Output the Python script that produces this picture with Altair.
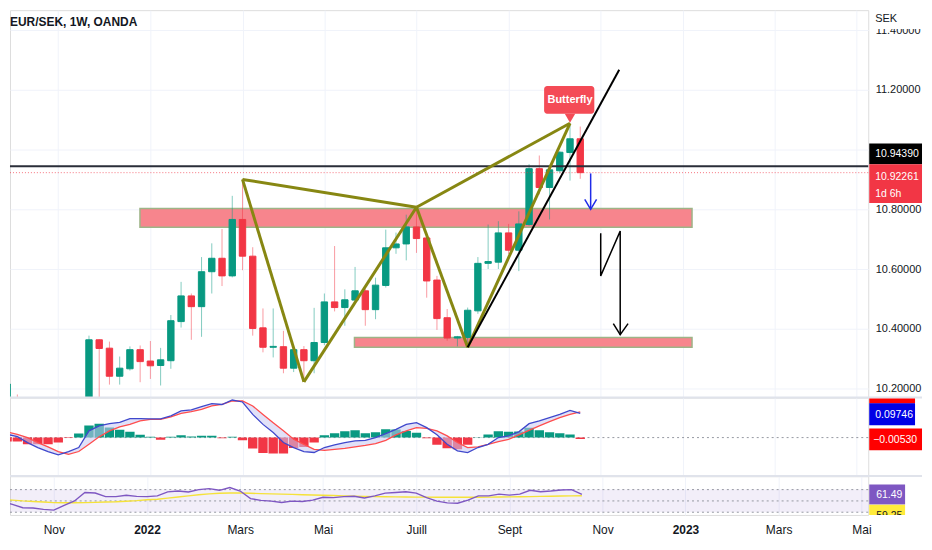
import altair as alt
import pandas as pd

# ------------------------------------------------------------------ data
FIRST_WEEK = "2021-09-27"

OPEN = [10.10, 10.165, 10.08, 10.03, 10.01, 9.96, 9.94, 10.00, 10.08, 10.363,
        10.335, 10.241, 10.266, 10.33, 10.292, 10.277, 10.293, 10.424, 10.51, 10.474,
        10.591, 10.636, 10.577, 10.766, 10.643, 10.403, 10.338, 10.34, 10.268, 10.33,
        10.293, 10.354, 10.49, 10.471, 10.496, 10.527, 10.464, 10.545, 10.671, 10.684,
        10.741, 10.704, 10.563, 10.437, 10.369, 10.371, 10.46, 10.619, 10.623, 10.721,
        10.663, 10.749, 10.936, 10.873, 10.929, 10.99, 11.036]
HIGH = [10.221, 10.18, 10.12, 10.06, 10.05, 9.99, 10.02, 10.10, 10.377, 10.365,
        10.357, 10.307, 10.341, 10.344, 10.359, 10.336, 10.446, 10.557, 10.518, 10.64,
        10.686, 10.734, 10.845, 10.90, 10.673, 10.468, 10.468, 10.393, 10.335, 10.342,
        10.47, 10.518, 10.677, 10.532, 10.607, 10.533, 10.571, 10.732, 10.722, 10.782,
        10.807, 10.71, 10.577, 10.466, 10.376, 10.471, 10.64, 10.749, 10.76, 10.751,
        10.793, 10.951, 10.98, 10.945, 10.995, 11.088, 11.077]
LOW = [10.08, 10.06, 10.00, 9.98, 9.93, 9.90, 9.92, 9.97, 10.06, 10.15,
       10.213, 10.213, 10.26, 10.221, 10.232, 10.21, 10.266, 10.404, 10.363, 10.373,
       10.518, 10.543, 10.572, 10.596, 10.377, 10.321, 10.304, 10.251, 10.255, 10.222,
       10.251, 10.345, 10.458, 10.41, 10.488, 10.41, 10.432, 10.538, 10.651, 10.629,
       10.654, 10.504, 10.396, 10.36, 10.341, 10.338, 10.45, 10.60, 10.60, 10.65,
       10.593, 10.745, 10.85, 10.766, 10.92, 10.896, 10.902]
CLOSE = [10.215, 10.08, 10.03, 10.01, 9.96, 9.94, 10.00, 10.08, 10.363, 10.334,
         10.241, 10.268, 10.33, 10.29, 10.276, 10.296, 10.427, 10.51, 10.474, 10.591,
         10.636, 10.577, 10.766, 10.643, 10.401, 10.338, 10.341, 10.268, 10.33, 10.293,
         10.354, 10.49, 10.471, 10.497, 10.527, 10.464, 10.546, 10.671, 10.684, 10.741,
         10.702, 10.56, 10.434, 10.369, 10.373, 10.462, 10.619, 10.625, 10.721, 10.663,
         10.751, 10.936, 10.873, 10.932, 10.991, 11.036, 10.92261]

MACD = [0.013, 0.004, -0.02, -0.04, -0.056, -0.069, -0.056, -0.04, 0.027, 0.047,
        0.056, 0.061, 0.076, 0.076, 0.075, 0.075, 0.087, 0.107, 0.111, 0.124,
        0.136, 0.133, 0.151, 0.143, 0.093, 0.053, 0.02, -0.02, -0.04, -0.056,
        -0.06, -0.04, -0.029, -0.02, -0.013, -0.011, 0.0, 0.016, 0.033, 0.053,
        0.06, 0.04, 0.011, -0.027, -0.053, -0.06, -0.04, -0.027, 0.0, 0.007,
        0.023, 0.056, 0.067, 0.08, 0.093, 0.109, 0.09746]
SIGNAL = [0.023, 0.013, 0.0, -0.02, -0.037, -0.056, -0.067, -0.056, -0.027, 0.003,
          0.027, 0.043, 0.053, 0.067, 0.073, 0.073, 0.083, 0.097, 0.104, 0.113,
          0.127, 0.133, 0.147, 0.147, 0.127, 0.093, 0.06, 0.027, -0.007, -0.027,
          -0.047, -0.051, -0.047, -0.043, -0.037, -0.031, -0.024, -0.011, 0.011, 0.027,
          0.04, 0.037, 0.027, 0.007, -0.02, -0.04, -0.037, -0.027, -0.016, -0.007,
          0.011, 0.029, 0.047, 0.064, 0.08, 0.093, 0.1028]
HIST = [-0.016, -0.016, -0.027, -0.027, -0.027, -0.02, -0.002, 0.016, 0.049, 0.056,
        0.04, 0.031, 0.023, 0.011, 0.003, -0.009, 0.003, 0.009, 0.004, 0.007,
        0.007, -0.003, 0.003, -0.011, -0.044, -0.062, -0.064, -0.064, -0.042, -0.038,
        -0.02, 0.009, 0.017, 0.025, 0.029, 0.017, 0.021, 0.033, 0.032, 0.026,
        0.019, -0.003, -0.029, -0.043, -0.047, -0.029, 0.001, 0.012, 0.025, 0.023,
        0.024, 0.039, 0.029, 0.021, 0.017, 0.012, -0.0053]
RSI = [48.5, 44, 38, 37.4, 35, 33.7, 42, 50, 65, 64,
       57.7, 57.7, 60, 58, 57.7, 59, 66, 67.5, 65.7, 70,
       71.8, 68.8, 73.7, 67.5, 54, 51, 49.7, 47.2, 49.7, 49,
       51.5, 56.5, 55.8, 57.7, 58.3, 55.2, 59, 63.8, 65, 66.3,
       63.8, 55.8, 49.7, 46.6, 46, 51.5, 59, 59, 62, 60.2,
       62, 68.8, 66.3, 67.5, 69.4, 70, 61.49]
RSI_MA = [52.8, 51.5, 50, 49, 48, 47, 46.8, 46.8, 47, 47.5,
          48, 48.5, 49.5, 50.5, 52, 53, 55, 57, 59, 61,
          62.5, 63.5, 64, 64, 63.5, 63, 62.5, 62, 61.5, 61,
          60.5, 60, 59.5, 59, 58.5, 58, 57.7, 57.4, 57.2, 57,
          56.8, 56.7, 56.6, 56.5, 56.5, 56.5, 56.6, 56.8, 57, 57.2,
          57.4, 57.7, 58, 58.3, 58.6, 58.9, 59.25]

PRICE_TICKS = [10.2, 10.4, 10.6, 10.8, 11.0, 11.2, 11.4]
MONTH_TICKS = ["2021-11-01", "2022-01-03", "2022-03-07", "2022-05-02", "2022-07-04",
               "2022-09-05", "2022-11-07", "2023-01-02", "2023-03-06", "2023-05-01"]
MONTHS_FR = ["Janv", "Févr", "Mars", "Avr", "Mai", "Juin", "Juill", "Août",
             "Sept", "Oct", "Nov", "Déc"]

TITLE = "EUR/SEK, 1W, OANDA"
CURRENCY = "SEK"
HLINE_PRICE = 10.94390
LAST_PRICE = 10.92261
COUNTDOWN = "1d 6h"
MACD_LAST = 0.09746
HIST_LAST = -0.00530
RSI_LAST = 61.49
RSI_MA_LAST = 59.25

# harmonic pattern X, A, B, C, D
PATTERN_DATES = ["2022-03-07", "2022-04-18", "2022-07-04", "2022-08-08", "2022-10-17"]
PATTERN_PRICES = [10.90, 10.222, 10.807, 10.338, 11.088]
PATTERN_LEGS = [(0, 1), (1, 2), (0, 2), (2, 3), (3, 4), (2, 4)]
PATTERN_NAME = "Butterfly"
LABEL_DATES = ["2022-09-29T07:00:00Z", "2022-11-02T15:00:00Z"]
LABEL_PRICES = [11.12, 11.213]

TREND_DATES = ["2022-08-08", "2022-11-19T16:00:00Z"]
TREND_PRICES = [10.338, 11.267]

BLUE_ARROW_DATES = ["2022-10-31T03:00:00Z", "2022-10-31T03:00:00Z",
                    "2022-10-27T02:00:00Z", "2022-10-31T03:00:00Z", "2022-11-04T04:00:00Z"]
BLUE_ARROW_PRICES = [10.92, 10.80, 10.833, 10.80, 10.833]
BLUE_ARROW_SEG = [0, 0, 1, 1, 1]

ZIGZAG_DATES = ["2022-11-07", "2022-11-07", "2022-11-20T08:00:00Z", "2022-11-20T08:00:00Z",
                "2022-11-15T15:00:00Z", "2022-11-20T08:00:00Z", "2022-11-25T17:00:00Z"]
ZIGZAG_PRICES = [10.72, 10.577, 10.727, 10.38, 10.417, 10.38, 10.417]
ZIGZAG_SEG = [0, 0, 0, 0, 1, 1, 1]

ZONE_START = ["2021-12-26T21:00:00Z", "2022-05-22T14:00:00Z"]
ZONE_END = ["2023-01-08T11:00:00Z", "2023-01-08T11:00:00Z"]
ZONE_TOP = [10.803, 10.371]
ZONE_BOTTOM = [10.74, 10.3377]

# ------------------------------------------------------------------ style / layout
FONT = "Liberation Sans, Arial, sans-serif"
TEXT = "#131722"
GRID = "#F0F3FA"
UP, DOWN = "#089981", "#F23645"
OLIVE = "#878712"
ZONE_FILL, ZONE_STROKE = "#F7858D", "#9DB487"
BF_RED = "#F44B56"

W = 862
RIGHT = 54          # width of the price-scale strip right of the plot
H_MAIN, H_MACD, H_RSI = 389, 79, 39
PX_PER_DAY = 10.4 / 7.0
t0 = pd.Timestamp(FIRST_WEEK)
x_lo = t0 + pd.Timedelta(days=8 / PX_PER_DAY)
x_hi = t0 + pd.Timedelta(days=(8 + W) / PX_PER_DAY)
XDOM = [int(x_lo.timestamp() * 1000), int(x_hi.timestamp() * 1000)]
TICK_MS = [int(pd.Timestamp(d).timestamp() * 1000) for d in MONTH_TICKS]
PRICE_DOMAIN = [10.17, 11.4667]
MACD_DOMAIN = [-0.1548, 0.1612]
RSI_DOMAIN = [25.2, 93.9]

LABEL_EXPR = ("utcmonth(datum.value) == 0 ? utcFormat(datum.value, '%Y') : "
              + str(MONTHS_FR) + "[utcmonth(datum.value)]")
# the 11.00000 label sits under the black price badge in the reference
PRICE_LABEL_EXPR = f"abs(datum.value - {HLINE_PRICE}) < 0.08 ? '' : format(datum.value, '.5f')"

# ------------------------------------------------------------------ frames
dates = pd.date_range(FIRST_WEEK, periods=len(CLOSE), freq="7D").strftime("%Y-%m-%d").tolist()
candles = pd.DataFrame({"date": dates, "open": OPEN, "high": HIGH, "low": LOW, "close": CLOSE})
candles["dir"] = ["up" if c >= o else "down" for o, c in zip(OPEN, CLOSE)]
ind = pd.DataFrame({"date": dates, "macd": MACD, "signal": SIGNAL, "hist": HIST,
                    "rsi": RSI, "rsi_ma": RSI_MA})
ind["sign"] = ["pos" if h >= 0 else "neg" for h in HIST]

pat_rows = []
for k, (a, b) in enumerate(PATTERN_LEGS):
    pat_rows.append({"date": PATTERN_DATES[a], "price": PATTERN_PRICES[a], "seg": k, "ord": 0})
    pat_rows.append({"date": PATTERN_DATES[b], "price": PATTERN_PRICES[b], "seg": k, "ord": 1})
pattern = pd.DataFrame(pat_rows)
trend = pd.DataFrame({"date": TREND_DATES, "price": TREND_PRICES, "seg": [0, 0], "ord": [0, 1]})
blue_arrow = pd.DataFrame({"date": BLUE_ARROW_DATES, "price": BLUE_ARROW_PRICES,
                           "seg": BLUE_ARROW_SEG, "ord": list(range(len(BLUE_ARROW_SEG)))})
zigzag = pd.DataFrame({"date": ZIGZAG_DATES, "price": ZIGZAG_PRICES,
                       "seg": ZIGZAG_SEG, "ord": list(range(len(ZIGZAG_SEG)))})
zones = pd.DataFrame({"start": ZONE_START, "end": ZONE_END, "top": ZONE_TOP, "bottom": ZONE_BOTTOM})
bf_box = pd.DataFrame({"start": [LABEL_DATES[0]], "end": [LABEL_DATES[1]],
                       "top": [LABEL_PRICES[1]], "bottom": [LABEL_PRICES[0]]})
bf_point = pd.DataFrame({"date": [PATTERN_DATES[4]], "tip": [11.105],
                         "mid": [(LABEL_PRICES[0] + LABEL_PRICES[1]) / 2], "t": [PATTERN_NAME]})

# ------------------------------------------------------------------ scales / axes
x_scale = alt.Scale(type="utc", domain=XDOM)
ax_grid = alt.Axis(values=TICK_MS, labels=False, ticks=False, domain=False, grid=True,
                   gridColor=GRID, title=None)
ax_label = alt.Axis(values=TICK_MS, labelExpr=LABEL_EXPR, ticks=False, domain=False, grid=True,
                    gridColor=GRID, title=None, labelPadding=10, labelFontSize=12,
                    labelFontWeight=alt.condition("utcmonth(datum.value) == 0",
                                                  alt.value("bold"), alt.value("normal")),
                    labelColor=TEXT, labelFont=FONT, labelOverlap=False, labelFlush=False)
price_scale = alt.Scale(domain=PRICE_DOMAIN, zero=False, nice=False)
price_axis = alt.Axis(orient="right", values=PRICE_TICKS, labelExpr=PRICE_LABEL_EXPR,
                      title=None, ticks=False, domain=False, grid=True, gridColor=GRID,
                      labelPadding=7, labelFontSize=11, labelColor=TEXT, labelFont=FONT)
macd_scale = alt.Scale(domain=MACD_DOMAIN, zero=False, nice=False)
rsi_scale = alt.Scale(domain=RSI_DOMAIN, zero=False, nice=False)


def X(field, axis):
    return alt.X(field, type="temporal", scale=x_scale, axis=axis)


def Yp(field):
    return alt.Y(field, type="quantitative", scale=price_scale, axis=price_axis)


def Ym(field):
    return alt.Y(field, type="quantitative", scale=macd_scale, axis=None)


def Yr(field):
    return alt.Y(field, type="quantitative", scale=rsi_scale, axis=None)


dir_scale = alt.Scale(domain=["up", "down"], range=[UP, DOWN])
sign_scale = alt.Scale(domain=["pos", "neg"], range=["#4CA352", "#FF5252"])


def badge(yfun, value, fill, top, bottom, x0, x1):
    d = pd.DataFrame({"v": [value]})
    return alt.Chart(d).mark_rect(fill=fill, yOffset=top, y2Offset=bottom).encode(
        x=alt.value(x0), x2=alt.value(x1), y=yfun("v"), y2=alt.Y2("v"))


def badge_text(yfun, value, text, dy, x, color="white", size=10.5):
    d = pd.DataFrame({"v": [value], "t": [text]})
    return alt.Chart(d).mark_text(color=color, fontSize=size, dy=dy, align="left",
                                  baseline="middle", font=FONT).encode(
        x=alt.value(x), y=yfun("v"), text="t:N")


# ------------------------------------------------------------------ main pane
zones_l = alt.Chart(zones).mark_rect(fill=ZONE_FILL, stroke=ZONE_STROKE, strokeWidth=1.5).encode(
    x=X("start", ax_grid), x2=alt.X2("end"), y=Yp("top"), y2=alt.Y2("bottom"))
wicks = alt.Chart(candles).mark_rule(strokeWidth=1, opacity=0.5, clip=True).encode(
    x=X("date", ax_grid), y=Yp("low"), y2=alt.Y2("high"),
    color=alt.Color("dir:N", scale=dir_scale, legend=None))
bodies = alt.Chart(candles).mark_bar(width=6.4, strokeWidth=1, clip=True).encode(
    x=X("date", ax_grid), y=Yp("open"), y2=alt.Y2("close"),
    color=alt.Color("dir:N", scale=dir_scale, legend=None),
    stroke=alt.Stroke("dir:N", scale=dir_scale, legend=None))
hline = alt.Chart(pd.DataFrame({"v": [HLINE_PRICE]})).mark_rule(
    color="#2A2E39", strokeWidth=2).encode(y=Yp("v"))
pline = alt.Chart(pd.DataFrame({"v": [LAST_PRICE]})).mark_rule(
    color=DOWN, strokeWidth=1, strokeDash=[1, 2], opacity=0.7).encode(y=Yp("v"))
pattern_l = alt.Chart(pattern).mark_line(color=OLIVE, strokeWidth=3, clip=True).encode(
    x=X("date", ax_grid), y=Yp("price"), detail="seg:N", order="ord:Q")
trend_l = alt.Chart(trend).mark_line(color="#000000", strokeWidth=2, clip=True).encode(
    x=X("date", ax_grid), y=Yp("price"), detail="seg:N", order="ord:Q")
blue_l = alt.Chart(blue_arrow).mark_line(color="#1F2BE8", strokeWidth=1.5).encode(
    x=X("date", ax_grid), y=Yp("price"), detail="seg:N", order="ord:Q")
zig_l = alt.Chart(zigzag).mark_line(color="#000000", strokeWidth=1.5).encode(
    x=X("date", ax_grid), y=Yp("price"), detail="seg:N", order="ord:Q")
bf_rect = alt.Chart(bf_box).mark_rect(fill=BF_RED, cornerRadius=3).encode(
    x=X("start", ax_grid), x2=alt.X2("end"), y=Yp("top"), y2=alt.Y2("bottom"))
bf_tri = alt.Chart(bf_point).mark_point(shape="triangle-down", filled=True, size=110,
                                        color=BF_RED, opacity=1).encode(
    x=X("date", ax_grid), y=Yp("tip"))
bf_txt = alt.Chart(bf_point).mark_text(color="white", fontSize=11, fontWeight="bold",
                                       font=FONT).encode(
    x=X("date", ax_grid), y=Yp("mid"), text="t:N")
title_l = alt.Chart(pd.DataFrame({"t": [TITLE]})).mark_text(
    align="left", baseline="middle", fontSize=12, fontWeight="bold", color=TEXT, font=FONT).encode(
    x=alt.value(0), y=alt.value(12), text="t:N")
sek_cover = alt.Chart(pd.DataFrame({"t": [CURRENCY]})).mark_rect(fill="white").encode(
    x=alt.value(W + 2), x2=alt.value(W + RIGHT), y=alt.value(0), y2=alt.value(19))
sek_txt = alt.Chart(pd.DataFrame({"t": [CURRENCY]})).mark_text(
    align="left", baseline="middle", fontSize=11, color=TEXT, font=FONT).encode(
    x=alt.value(W + 7), y=alt.value(9), text="t:N")

main = alt.layer(
    zones_l, wicks, bodies, hline, pline, pattern_l, trend_l, blue_l, zig_l,
    bf_rect, bf_tri, bf_txt, title_l, sek_cover, sek_txt,
    badge(Yp, HLINE_PRICE, "#000000", -23, -2, W + 1, W + RIGHT),
    badge_text(Yp, HLINE_PRICE, f"{HLINE_PRICE:.5f}", -12, W + 7),
    badge(Yp, LAST_PRICE, DOWN, -8.5, 30.5, W + 1, W + RIGHT),
    badge_text(Yp, LAST_PRICE, f"{LAST_PRICE:.5f}", 4, W + 7),
    badge_text(Yp, LAST_PRICE, COUNTDOWN, 21, W + 7),
).properties(width=W, height=H_MAIN)

# ------------------------------------------------------------------ MACD pane
sep_df = pd.DataFrame({"k": [0]})
sep_m = alt.Chart(sep_df).mark_rule(color="#E0E3EB", strokeWidth=2).encode(
    x=alt.value(0), x2=alt.value(W + RIGHT), y=alt.value(0))
zero_m = alt.Chart(pd.DataFrame({"v": [0.0]})).mark_rule(
    color="#9598A1", strokeDash=[2, 3], strokeWidth=1).encode(y=Ym("v"))
hist_l = alt.Chart(ind).mark_bar(width=9.4, clip=True).encode(
    x=X("date", ax_grid), y=Ym("hist"), y2=alt.datum(0),
    color=alt.Color("sign:N", scale=sign_scale, legend=None))
fill_l = alt.Chart(ind).mark_area(color="#C9C9F2", opacity=0.55, clip=True).encode(
    x=X("date", ax_grid), y=Ym("macd"), y2=alt.Y2("signal"))
macd_l = alt.Chart(ind).mark_line(color="#3F48CC", strokeWidth=1.3, clip=True).encode(
    x=X("date", ax_grid), y=Ym("macd"))
sig_l = alt.Chart(ind).mark_line(color="#FF4D4D", strokeWidth=1.3, clip=True).encode(
    x=X("date", ax_grid), y=Ym("signal"))
sig_sliver = alt.Chart(sep_df).mark_rect(fill="#FF0000").encode(
    x=alt.value(W + 1), x2=alt.value(W + 47), y=alt.value(1), y2=alt.value(6))

macd_pane = alt.layer(
    zero_m, hist_l, fill_l, sig_l, macd_l, sep_m, sig_sliver,
    badge(Ym, MACD_LAST, "#0000E6", -10, 12, W + 1, W + 47),
    badge_text(Ym, MACD_LAST, f"{MACD_LAST:.5f}", 1.5, W + 7),
    badge(Ym, HIST_LAST, "#FF0000", -10.5, 11.5, W + 1, W + RIGHT),
    badge_text(Ym, HIST_LAST, f"{HIST_LAST:.5f}".replace("-", "\u2212"), 1, W + 5),
).properties(width=W, height=H_MACD)

# ------------------------------------------------------------------ RSI pane
band_df = pd.DataFrame({"hi": [70], "lo": [30]})
band = alt.Chart(band_df).mark_rect(color="#7E57C2", opacity=0.1).encode(
    y=Yr("hi"), y2=alt.Y2("lo"))
levels = alt.Chart(pd.DataFrame({"v": [70, 50, 30]})).mark_rule(
    color="#9598A1", strokeDash=[2, 3], strokeWidth=1).encode(y=Yr("v"))
rsi_l = alt.Chart(ind).mark_line(color="#7E57C2", strokeWidth=1.4, clip=True).encode(
    x=X("date", ax_label), y=Yr("rsi"))
rsi_ma_l = alt.Chart(ind).mark_line(color="#F5E23A", strokeWidth=1.4, clip=True).encode(
    x=X("date", ax_label), y=Yr("rsi_ma"))
sep_r = alt.Chart(sep_df).mark_rule(color="#E0E3EB", strokeWidth=2).encode(
    x=alt.value(0), x2=alt.value(W + RIGHT), y=alt.value(0))
ma_box = alt.Chart(pd.DataFrame({"v": [RSI_MA_LAST]})).mark_rect(
    fill="#FFEB3B", yOffset=9).encode(
    x=alt.value(W + 1), x2=alt.value(W + 37), y=Yr("v"), y2=alt.value(H_RSI))
ma_cover = alt.Chart(sep_df).mark_rect(fill="white").encode(
    x=alt.value(W + 1), x2=alt.value(W + 40), y=alt.value(H_RSI), y2=alt.value(H_RSI + 5))

rsi_pane = alt.layer(
    band, levels, rsi_ma_l, rsi_l, sep_r,
    badge(Yr, RSI_LAST, "#7E57C2", -10, 10, W + 1, W + 37),
    ma_box,
    badge_text(Yr, RSI_MA_LAST, f"{RSI_MA_LAST:.2f}", 20, W + 8, color=TEXT),
    ma_cover,
    badge_text(Yr, RSI_LAST, f"{RSI_LAST:.2f}", 1, W + 8),
).properties(width=W, height=H_RSI)

chart = alt.vconcat(main, macd_pane, rsi_pane, spacing=0).properties(
    bounds="flush", padding=0
).configure_view(stroke=None).configure_axis(minExtent=0).configure(
    font=FONT, background="white")

chart.save("out.html", embed_options={"renderer": "svg", "actions": False})
